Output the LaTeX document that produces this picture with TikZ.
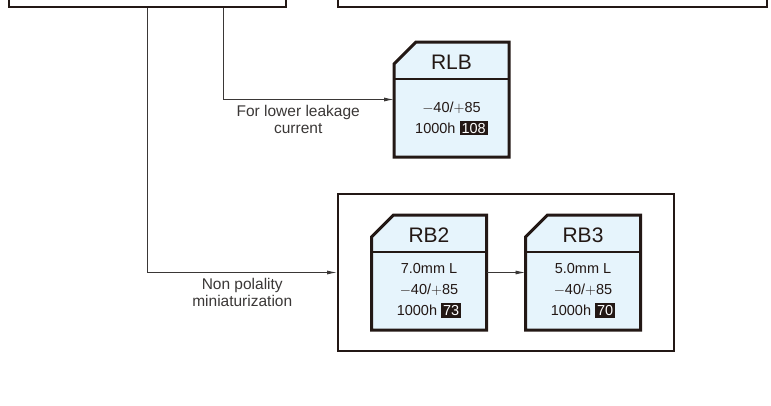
\documentclass[tikz,border=0pt]{standalone}
\usepackage{fontspec}
\setmainfont{Liberation Sans}
\usepackage{xcolor}
\definecolor{Ink}{HTML}{231815}
\definecolor{Wire}{HTML}{3A3736}
\definecolor{Card}{HTML}{E6F4FC}
\usetikzlibrary{arrows.meta,positioning,fit}
\newcommand{\lifetag}[1]{{\setlength{\fboxsep}{2pt}\colorbox{Ink}{\textcolor{white}{#1}}}}
\tikzset{
  frame/.style={draw=Ink,line width=2.2pt,inner sep=0pt},
  card/.style={rectangle,minimum width=115pt,minimum height=115pt,inner sep=0pt,outer sep=0pt},
  cardline/.style={draw=Ink,fill=Card,line width=3pt,line join=miter},
  divider/.style={draw=Ink,line width=2pt},
  head/.style={font=\fontsize{21}{23}\selectfont,text=Ink},
  spec/.style={font=\fontsize{14.5}{21}\selectfont,text=Ink,align=center},
  wire/.style={draw=Wire,line width=0.9pt},
  flow/.style={wire,-{Latex[length=10pt,width=4pt]}},
  note/.style={font=\fontsize{15.5}{17}\selectfont,text=Wire,align=center,
    below,inner sep=5pt}
}
\begin{document}
\begin{tikzpicture}[x=1pt,y=-1pt]
  \useasboundingbox (0,0) rectangle (771,405);
  % cut-off parent boxes
  \node[frame,minimum width=277pt,minimum height=50pt] (parent) at (147.5,-18) {};
  \node[frame,minimum width=429pt,minimum height=50pt,right=50pt of parent] (family) {};
  % cards
  \node[card] (rlb) at (451.5,99.5) {};
  \draw[cardline] (rlb.south west) -- ([yshift=-22pt]rlb.north west) -- ([xshift=22pt]rlb.north west)
    -- (rlb.north east) -- (rlb.south east) -- cycle;
  \draw[divider] ([yshift=-37pt]rlb.north west) -- ([yshift=-37pt]rlb.north east);
  \node[head] (rlbname) at ([yshift=-20pt]rlb.north) {RLB};
  \node[spec] (rlbspec) at ([yshift=-19pt]rlb.center) {$-$40/$+$85\\1000h \lifetag{108}};
  \node[card] (rb2) at (429,272.5) {};
  \draw[cardline] (rb2.south west) -- ([yshift=-22pt]rb2.north west) -- ([xshift=22pt]rb2.north west)
    -- (rb2.north east) -- (rb2.south east) -- cycle;
  \draw[divider] ([yshift=-37pt]rb2.north west) -- ([yshift=-37pt]rb2.north east);
  \node[head] (rbtwoname) at ([yshift=-20pt]rb2.north) {RB2};
  \node[spec] (rbtwospec) at ([yshift=-18pt]rb2.center) {7.0mm L\\$-$40/$+$85\\1000h \lifetag{73}};
  \node[card,right=39pt of rb2] (rb3) {};
  \draw[cardline] (rb3.south west) -- ([yshift=-22pt]rb3.north west) -- ([xshift=22pt]rb3.north west)
    -- (rb3.north east) -- (rb3.south east) -- cycle;
  \draw[divider] ([yshift=-37pt]rb3.north west) -- ([yshift=-37pt]rb3.north east);
  \node[head] (rbthreename) at ([yshift=-20pt]rb3.north) {RB3};
  \node[spec] (rbthreespec) at ([yshift=-18pt]rb3.center) {5.0mm L\\$-$40/$+$85\\1000h \lifetag{70}};
  \node[frame,line width=2pt,fit=(rb2)(rb3),inner xsep=33.5pt,inner ysep=21pt] (rbgroup) {};
  % connectors
  \draw[flow] ([xshift=75.5pt]parent.south) |- node[note,pos=0.72]{For lower leakage\\current} (rlb.west);
  \draw[flow] (parent.south) |- node[note,pos=0.75]{Non polality\\miniaturization} (rbgroup.west);
  \draw[flow] (rb2) -- (rb3);
\end{tikzpicture}
\end{document}
